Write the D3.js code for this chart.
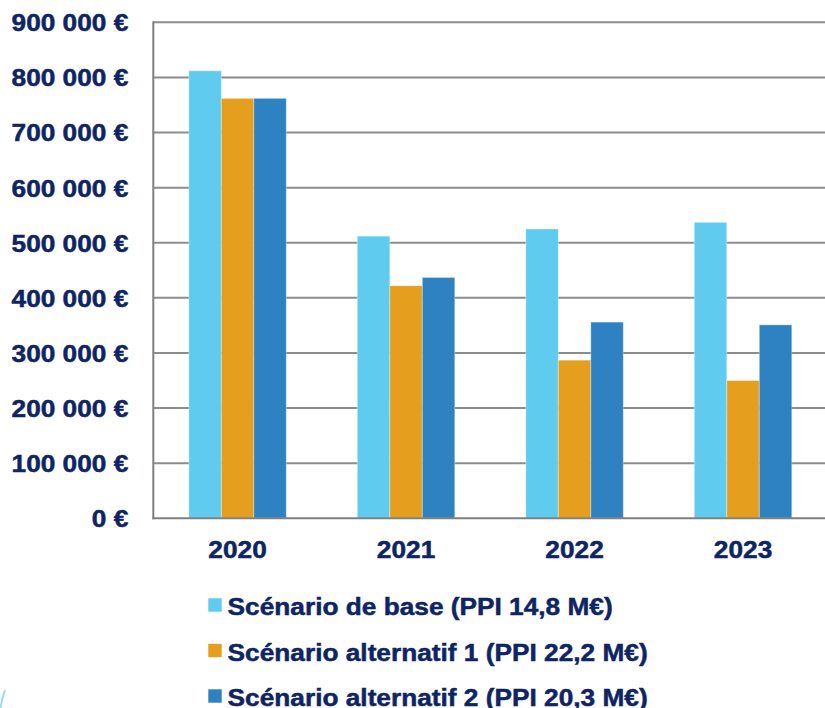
<!DOCTYPE html>
<html>
<head>
<meta charset="utf-8">
<script src="https://cdn.jsdelivr.net/npm/d3@7/dist/d3.min.js"></script>
<style>
  html, body { margin: 0; padding: 0; background: #ffffff; }
  svg { display: block; }
  text { font-family: "Liberation Sans", Arial, sans-serif; font-weight: bold; fill: #0e2463; stroke: #0e2463; stroke-width: 0.5px; }
</style>
</head>
<body>
<svg id="chart" width="825" height="708"></svg>
<script>
// Annual amounts per scenario (€)
const years = ["2020", "2021", "2022", "2023"];
const seriesNames = [
  "Scénario de base (PPI 14,8 M€)",
  "Scénario alternatif 1 (PPI 22,2 M€)",
  "Scénario alternatif 2 (PPI 20,3 M€)"
];
const baseValues = [812000, 512000, 525000, 537000];
const alt1Values = [762000, 422000, 287000, 250000];
const alt2Values = [762000, 437000, 356000, 351000];
const seriesColors = ["#5ecbef", "#e59e1e", "#2e82c1"];
const yTicks = [0, 100000, 200000, 300000, 400000, 500000, 600000, 700000, 800000, 900000];

const seriesValues = [baseValues, alt1Values, alt2Values];

const svg = d3.select("#chart");

const plot = { left: 153.3, right: 827.3, top: 22.3, bottom: 518.3 };
const FONT_SIZE = 23.5;
const STRETCH = "scale(1.117,1)";

const y = d3.scaleLinear().domain([0, 900000]).range([plot.bottom, plot.top]);
const x0 = d3.scaleBand().domain(years).range([plot.left, plot.right])
  .paddingInner(0.4214).paddingOuter(0.2107);
const x1 = d3.scaleBand().domain(d3.range(seriesNames.length)).range([0, x0.bandwidth()]);

const fmt = v => d3.format(",")(v).replace(/,/g, " ") + " €";

// Horizontal gridlines
svg.append("g")
  .selectAll("line")
  .data(yTicks.filter(t => t > 0))
  .join("line")
  .attr("x1", plot.left)
  .attr("x2", 825)
  .attr("y1", d => y(d))
  .attr("y2", d => y(d))
  .attr("stroke", "#8c8c8c")
  .attr("stroke-width", 2);

// Bars
const groups = svg.append("g")
  .selectAll("g")
  .data(years)
  .join("g")
  .attr("transform", d => `translate(${x0(d)},0)`);

groups.selectAll("rect")
  .data((yr, i) => seriesValues.map((vals, s) => ({ s, v: vals[i] })))
  .join("rect")
  .attr("x", d => x1(d.s))
  .attr("width", x1.bandwidth())
  .attr("y", d => y(d.v))
  .attr("height", d => y(0) - y(d.v))
  .attr("fill", d => seriesColors[d.s])
  .attr("stroke", "rgba(255,255,255,0.35)")
  .attr("stroke-width", 1);

// Axis lines
svg.append("line")
  .attr("x1", plot.left).attr("x2", plot.left)
  .attr("y1", plot.top - 1).attr("y2", plot.bottom + 1)
  .attr("stroke", "#808080").attr("stroke-width", 2);
svg.append("line")
  .attr("x1", plot.left - 1).attr("x2", 825)
  .attr("y1", plot.bottom).attr("y2", plot.bottom)
  .attr("stroke", "#808080").attr("stroke-width", 2);

// Y axis labels (right-aligned, slightly widened)
const yAxis = d3.axisLeft(y).tickValues(yTicks).tickFormat(fmt).tickSize(0).tickPadding(0);
const yg = svg.append("g").attr("transform", "translate(128.3,0)").call(yAxis);
yg.select(".domain").remove();
yg.selectAll("text")
  .attr("font-size", FONT_SIZE)
  .attr("font-family", "Liberation Sans, Arial, sans-serif")
  .attr("font-weight", "bold")
  .attr("fill", "#0e2463")
  .attr("dy", "0.36em")
  .attr("x", 0)
  .attr("transform", STRETCH);

// X axis labels
const xAxis = d3.axisBottom(x0).tickSize(0).tickPadding(0);
const xg = svg.append("g").attr("transform", `translate(0,558)`).call(xAxis);
xg.select(".domain").remove();
xg.selectAll("text")
  .attr("font-size", FONT_SIZE)
  .attr("font-family", "Liberation Sans, Arial, sans-serif")
  .attr("font-weight", "bold")
  .attr("fill", "#0e2463")
  .attr("dy", 0)
  .attr("y", 0)
  .attr("transform", STRETCH);

// Legend
const legend = svg.append("g")
  .selectAll("g")
  .data(seriesNames)
  .join("g")
  .attr("transform", (d, i) => `translate(208.3,${598.3 + i * 45.5})`);
legend.append("rect")
  .attr("width", 13.4).attr("height", 13.4)
  .attr("fill", (d, i) => seriesColors[i]);
legend.append("text")
  .attr("x", 0).attr("y", 0)
  .attr("transform", `translate(19.3,16.7) ${STRETCH}`)
  .attr("font-size", FONT_SIZE)
  .text(d => d);

// Decorative corner arc
svg.append("path")
  .attr("d", "M 5 690 Q 1.5 700 0.5 708")
  .attr("fill", "none")
  .attr("stroke", "#9fdcf3")
  .attr("stroke-width", 2);
</script>
</body>
</html>
